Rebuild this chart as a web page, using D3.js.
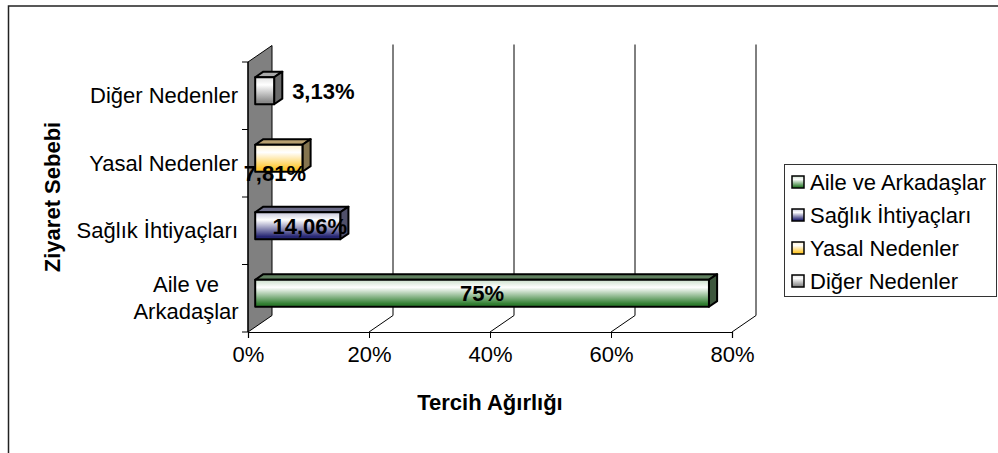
<!DOCTYPE html>
<html>
<head>
<meta charset="utf-8">
<script src="https://cdn.jsdelivr.net/npm/d3@7"></script>
<style>
  html, body { margin: 0; padding: 0; background: #fff; }
  svg { display: block; font-family: "Liberation Sans", Arial, sans-serif; }
</style>
</head>
<body>
<svg id="chart" width="998" height="453"></svg>
<script>
// data
const categories = ["Aile ve Arkadaşlar", "Sağlık İhtiyaçları", "Yasal Nedenler", "Diğer Nedenler"];
const values = [75, 14.06, 7.81, 3.13];
const valueLabels = ["75%", "14,06%", "7,81%", "3,13%"];
const categoryLines = [["Aile ve", "Arkadaşlar"], ["Sağlık İhtiyaçları"], ["Yasal Nedenler"], ["Diğer Nedenler"]];
const xTicks = [0, 20, 40, 60, 80];
const xTitle = "Tercih Ağırlığı";
const yTitle = "Ziyaret Sebebi";

// colours per series: base, top face, side face
const baseColors = ["#2f7d2f", "#262673", "#ffc62a", "#8a8a8a"];
const topColors = ["#60805f", "#6c6c88", "#b8a070", "#a9a9a9"];
const sideColors = ["#3d573d", "#50506a", "#85754f", "#6a6a6a"];
// label placement: where each label sits relative to its bar
const labelModes = ["center", "centerShift", "below", "right"];

const svg = d3.select("#chart");
const DX = 24, DY = 16.5;     // depth offset of the 3D box
const Z0 = 0.3, Z1 = 0.64;    // bar depth slice
const FS = 22;

const x = d3.scaleLinear().domain([0, 80]).range([248, 732]);
const y = d3.scaleBand().domain(categories).range([332, 62]);
const bw = y.bandwidth();
const barH = bw * 0.4;

const proj = (v, yy, z) => [x(v) + z * DX, yy - z * DY];

// outer border
svg.append("rect")
  .attr("x", 8.5).attr("y", 6).attr("width", 1000).attr("height", 460)
  .attr("fill", "none").attr("stroke", "#222").attr("stroke-width", 1.5);

// gradients
const defs = svg.append("defs");
baseColors.forEach((c, i) => {
  const g = defs.append("linearGradient").attr("id", "front" + i)
    .attr("x1", 0).attr("y1", 0).attr("x2", 0).attr("y2", 1);
  g.append("stop").attr("offset", 0).attr("stop-color", d3.interpolateRgb(c, "#fff")(0.75));
  g.append("stop").attr("offset", 0.28).attr("stop-color", "#fff");
  g.append("stop").attr("offset", 0.9).attr("stop-color", c);
});

// back wall gridlines
svg.append("g").selectAll("line").data(xTicks.slice(1)).join("line")
  .attr("x1", d => proj(d, 332, 1)[0]).attr("x2", d => proj(d, 332, 1)[0])
  .attr("y1", 332 - DY).attr("y2", 62 - DY - 1)
  .attr("stroke", "#000").attr("stroke-width", 1);

// floor diagonals
svg.append("g").selectAll("line").data(xTicks.slice(1)).join("line")
  .attr("x1", d => x(d)).attr("y1", 332)
  .attr("x2", d => proj(d, 332, 1)[0]).attr("y2", 332 - DY)
  .attr("stroke", "#000").attr("stroke-width", 1);

// side wall
const wall = [proj(0, 62, 0), proj(0, 332, 0), proj(0, 332, 1), proj(0, 62, 1)];
svg.append("path")
  .attr("d", d3.line()(wall) + "Z")
  .attr("fill", "#808080").attr("stroke", "#000").attr("stroke-width", 1);

// x axis
const xAxis = d3.axisBottom(x).tickValues(xTicks).tickFormat(d => d + "%").tickSizeOuter(0).tickSize(6);
const gx = svg.append("g").attr("transform", "translate(0,332)").call(xAxis);
gx.select(".domain").attr("stroke", "#000").attr("stroke-width", 1.2);
gx.selectAll(".tick line").attr("stroke", "#000");
gx.selectAll(".tick text").attr("font-size", FS).attr("fill", "#000").attr("dy", "0.95em")
  .attr("font-family", "Liberation Sans, Arial, sans-serif");

// y axis ticks at band edges
const edges = categories.map(c => y(c)).concat([y(categories[0]) + bw]);
svg.append("g").selectAll("line").data(edges).join("line")
  .attr("x1", x(0) - 6).attr("x2", x(0)).attr("y1", d => d).attr("y2", d => d)
  .attr("stroke", "#000");
svg.append("line").attr("x1", x(0)).attr("x2", x(0)).attr("y1", 62).attr("y2", 332)
  .attr("stroke", "#000").attr("stroke-width", 1.2);

// category labels
const catG = svg.append("g").attr("font-size", FS).attr("fill", "#000");
categories.forEach((c, i) => {
  const lines = categoryLines[i];
  const yc = y(c) + bw / 2;
  const t = catG.append("text")
    .attr("text-anchor", lines.length > 1 ? "middle" : "end");
  lines.forEach((ln, j) => {
    t.append("tspan")
      .attr("x", lines.length > 1 ? 186 : 238)
      .attr("y", yc + (j - (lines.length - 1) / 2) * 27)
      .attr("dy", "0.35em")
      .text(ln);
  });
});

// bars
const barsG = svg.append("g");
categories.forEach((c, i) => {
  const v = values[i];
  const yc = y(c) + bw / 2;
  const top = yc - barH / 2, bot = yc + barH / 2;
  const ftl = proj(0, top, Z0), ftr = proj(v, top, Z0), fbr = proj(v, bot, Z0);
  const btl = proj(0, top, Z1), btr = proj(v, top, Z1), bbr = proj(v, bot, Z1);
  const g = barsG.append("g").attr("stroke", "#000").attr("stroke-width", 2).attr("stroke-linejoin", "round");
  g.append("path").attr("d", d3.line()([ftl, ftr, btr, btl]) + "Z").attr("fill", topColors[i]);
  g.append("path").attr("d", d3.line()([ftr, fbr, bbr, btr]) + "Z").attr("fill", sideColors[i]);
  g.append("rect")
    .attr("x", ftl[0]).attr("y", ftl[1])
    .attr("width", ftr[0] - ftl[0]).attr("height", barH)
    .attr("fill", `url(#front${i})`);
});

// value labels
const lblG = svg.append("g").attr("font-size", FS).attr("font-weight", "bold").attr("fill", "#000");
categories.forEach((c, i) => {
  const v = values[i];
  const yc = y(c) + bw / 2 - Z0 * DY;
  const left = proj(0, 0, Z0)[0], right = proj(v, 0, Z0)[0];
  let lx, ly = yc, anchor = "middle";
  const mode = labelModes[i];
  if (mode === "center") lx = (left + right) / 2;
  else if (mode === "centerShift") lx = (left + right) / 2 + 12;
  else if (mode === "below") { lx = (left + right) / 2 - 4; ly = yc + barH / 2 + 1; }
  else { lx = right + 18; anchor = "start"; }
  lblG.append("text").attr("x", lx).attr("y", ly).attr("dy", "0.35em")
    .attr("text-anchor", anchor).text(valueLabels[i]);
});

// axis titles
svg.append("text").attr("x", 490).attr("y", 402).attr("dy", "0.35em")
  .attr("text-anchor", "middle").attr("font-size", FS).attr("font-weight", "bold")
  .text(xTitle);
svg.append("text").attr("transform", "translate(52,197) rotate(-90)").attr("dy", "0.35em")
  .attr("text-anchor", "middle").attr("font-size", FS).attr("font-weight", "bold")
  .text(yTitle);

// legend
const leg = svg.append("g");
leg.append("rect").attr("x", 784.5).attr("y", 164.5).attr("width", 212).attr("height", 132)
  .attr("fill", "#fff").attr("stroke", "#333").attr("stroke-width", 1);
const ly = d3.scalePoint().domain(categories).range([182, 281]);
categories.forEach((c, i) => {
  leg.append("rect").attr("x", 792).attr("y", ly(c) - 6).attr("width", 12).attr("height", 12)
    .attr("fill", `url(#front${i})`).attr("stroke", "#000").attr("stroke-width", 1.5);
  leg.append("text").attr("x", 810).attr("y", ly(c)).attr("dy", "0.35em")
    .attr("font-size", FS).text(c);
});
</script>
</body>
</html>
